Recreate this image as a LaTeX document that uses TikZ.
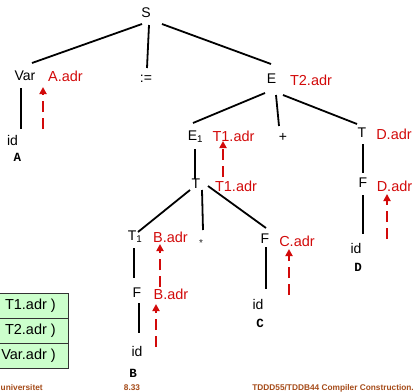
\documentclass[tikz,border=0pt]{standalone}
\usepackage{fontspec}
\setmainfont{Liberation Sans}
\newfontfamily\codefont{Liberation Mono}
\usetikzlibrary{arrows.meta,calc}
\definecolor{attrred}{RGB}{210,10,10}
\definecolor{boxgreen}{RGB}{204,255,204}
\definecolor{footbrown}{RGB}{165,75,25}
\tikzset{
  sym/.style={inner sep=0pt,font=\fontsize{14}{14}\selectfont},
  attr/.style={inner sep=0pt,text=attrred,font=\fontsize{14.5}{14.5}\selectfont},
  lexeme/.style={inner sep=0pt,font=\codefont\bfseries\fontsize{12.5}{12.5}\selectfont},
  edge/.style={line width=1.8pt},
  flow/.style={attrred,line width=2.6pt,dash pattern=on 11pt off 6pt,
    -{Triangle[length=7pt,width=7pt]}},
  cell/.style={draw=black!80,line width=0.8pt,fill=boxgreen},
  celltext/.style={inner sep=0pt,anchor=east,font=\fontsize{14.5}{14.5}\selectfont},
  foot/.style={inner sep=0pt,anchor=base,text=footbrown,
    font=\bfseries\fontsize{8.3}{8.3}\selectfont}
}
\begin{document}
\begin{tikzpicture}[x=1pt,y=-1pt]
\useasboundingbox (0,0) rectangle (415,391);

% grammar symbols of the parse tree
\node[sym] (S)   at (146,13)  {S};
\node[sym] (var) at (25,76)   {Var};
\node[sym] (asg) at (146,79)  {:=};
\node[sym] (E)   at (271.5,79) {E};
\node[sym] (idA) at (12.5,140) {id};
\node[sym] (E1)  at (195.5,137) {E\textsubscript{1}};
\node[sym] (pl)  at (283,137) {+};
\node[sym] (Tr)  at (362,133) {T};
\node[sym] (Fr)  at (363,183) {F};
\node[sym] (idD) at (356,248) {id};
\node[sym] (Tm)  at (196,184) {T};
\node[sym] (T1)  at (135,237) {T\textsubscript{1}};
\node[inner sep=0pt,text=black!85,font=\fontsize{10}{10}\selectfont] (st) at (201,243) {*};
\node[sym] (Fm)  at (265,239) {F};
\node[sym] (Fl)  at (137,293) {F};
\node[sym] (idB) at (137,351) {id};
\node[sym] (idC) at (258,304) {id};

% source names under the id leaves
\node[lexeme] (nA) at (17.5,157) {A};
\node[lexeme] (nB) at (133,373)  {B};
\node[lexeme] (nC) at (260,323)  {C};
\node[lexeme] (nD) at (358,267)  {D};

% synthesized address attributes
\node[attr] (aVar) at (65.5,76) {A.adr};
\node[attr] (aE)   at (311,80)  {T2.adr};
\node[attr] (aE1)  at (233.5,136) {T1.adr};
\node[attr] (aTr)  at (394,134) {D.adr};
\node[attr] (aTm)  at (236,186) {T1.adr};
\node[attr] (aFr)  at (394.5,186) {D.adr};
\node[attr] (aT1)  at (170.5,237) {B.adr};
\node[attr] (aFm)  at (297,241) {C.adr};
\node[attr] (aFl)  at (171,294) {B.adr};

% tree edges
\draw[edge] ($(S)+(-4,11)$) -- ($(var)+(7,-13)$);
\draw[edge] ($(S)+(3,12)$) -- ($(asg)+(1,-11)$);
\draw[edge] ($(S)+(16,11)$) -- ($(E)+(-0.5,-15)$);
\draw[edge] ($(var)+(-4,12)$) -- ($(idA)+(8.5,-11)$);
\draw[edge] ($(E)+(-6.5,14)$) -- ($(E1)+(-2.5,-14)$);
\draw[edge] ($(E)+(4.5,16)$) -- ($(pl)+(-4,-11)$);
\draw[edge] ($(E)+(11.5,16)$) -- ($(Tr)+(-5,-9)$);
\draw[edge] ($(Tr)+(1,11)$) -- ($(Fr)+(0,-10)$);
\draw[edge] ($(Fr)+(0,12)$) -- ($(idD)+(7,-14)$);
\draw[edge] ($(E1)+(-0.5,12)$) -- ($(Tm)+(-1,-5)$);
\draw[edge] ($(Tm)+(-6,6)$) -- ($(T1)+(3,-5)$);
\draw[edge] ($(Tm)+(6,6)$) -- ($(st)+(2,-13)$);
\draw[edge] ($(Tm)+(12,2)$) -- ($(Fm)+(1,-11)$);
\draw[edge] ($(T1)+(-1,11)$) -- ($(Fl)+(-3,-15)$);
\draw[edge] ($(Fl)+(2,10)$) -- ($(idB)+(2,-18)$);
\draw[edge] ($(Fm)+(1,8)$) -- ($(idC)+(8,-15)$);

% attribute flow, bottom-up
\coordinate (fA0) at (43,129);  \coordinate (fA1) at (43,87);
\coordinate (fE0) at (223,177); \coordinate (fE1) at (223,141);
\coordinate (fD0) at (387,239); \coordinate (fD1) at (387,194);
\coordinate (fB0) at (160,287); \coordinate (fB1) at (160,244);
\coordinate (fL0) at (156,347); \coordinate (fL1) at (156,304);
\coordinate (fC0) at (289,295); \coordinate (fC1) at (289,249);
\draw[flow] (fA0) -- (fA1);
\draw[flow] (fE0) -- (fE1);
\draw[flow] (fD0) -- (fD1);
\draw[flow] (fB0) -- (fB1);
\draw[flow] (fL0) -- (fL1);
\draw[flow] (fC0) -- (fC1);

% generated code table
\draw[cell] (-5,293) rectangle (68,318);
\draw[cell] (-5,318) rectangle (68,343);
\draw[cell] (-5,343) rectangle (68,368);
\node[celltext] (r1) at (56,305.5) {T1.adr )};
\node[celltext] (r2) at (56,330.5) {T2.adr )};
\node[celltext] (r3) at (56,355.5) {Var.adr )};

% slide footer
\node[foot,anchor=base west] (fl) at (0.5,390) {universitet};
\node[foot] (fn) at (132,390) {8.33};
\node[foot,anchor=base east] (fr) at (414,390) {TDDD55/TDDB44 Compiler Construction.};
\end{tikzpicture}
\end{document}
